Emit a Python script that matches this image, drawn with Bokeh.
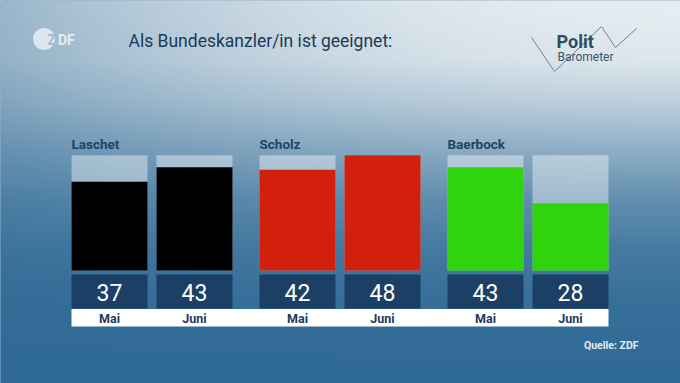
import numpy as np
from bokeh.plotting import figure
from bokeh.models import ColumnDataSource, Range1d, Label
from bokeh.core.properties import value
from bokeh.embed import file_html
from bokeh.resources import INLINE

# ---------------- data ----------------
candidates = ["Laschet", "Scholz", "Baerbock"]
months = ["Mai", "Juni"]
laschet = [37, 43]
scholz = [42, 48]
baerbock = [43, 28]
party_colors = ["#000000", "#d3200c", "#30d40c"]
title_text = "Als Bundeskanzler/in ist geeignet:"
source_text = "Quelle: ZDF"

# ---------------- layout constants (screen px) ----------------
W, H = 680, 383
X0 = 71            # left edge of first bar
BAR_W = 76
BAR_PITCH = 85
GROUP_PITCH = 188
BASE_Y = 270       # screen y of value 0
PX_PER_UNIT = 2.4
FONT = "Roboto"


def Y(py):
    """screen y (px from top) -> value units"""
    return (BASE_Y - py) / PX_PER_UNIT


series = [laschet, scholz, baerbock]
xs, vals, cols, labs, mons = [], [], [], [], []
for g, (vals_g, c) in enumerate(zip(series, party_colors)):
    for m, mon in enumerate(months):
        xs.append(X0 + g * GROUP_PITCH + m * BAR_PITCH + BAR_W / 2)
        vals.append(vals_g[m])
        cols.append(c)
        labs.append(str(vals_g[m]))
        mons.append(mon)
src = ColumnDataSource(dict(x=xs, value=vals, color=cols, label=labs, month=mons))
track_max = max(vals)

p = figure(width=W, height=H, output_backend="svg", toolbar_location=None,
           x_range=Range1d(0, W), y_range=Range1d(Y(H), Y(0)),
           min_border=0, x_axis_location=None, y_axis_location=None)
p.grid.visible = False
p.outline_line_color = None
p.background_fill_color = "#2f6a95"
p.border_fill_color = "#2f6a95"

# ---------------- background gradient ----------------
sy, sx = np.mgrid[0:H, 0:W].astype(float)
ty = np.interp(sy, [0, 60, 100, 150, 200, 250, 300, 383],
               [0.0, 0.06, 0.22, 0.48, 0.72, 0.87, 0.95, 1.0])
v = sx / 680.0
t = ty + 0.42 * (1 - v) ** 2 * (1 - ty)
t = np.clip(t, 0, 1)
L = np.array([232, 238, 242], float)
D = np.array([46, 105, 149], float)
rgb = L[None, None, :] * (1 - t[..., None]) + D[None, None, :] * t[..., None]
img = np.empty((H, W), dtype=np.uint32)
view = img.view(dtype=np.uint8).reshape((H, W, 4))
view[..., 0] = rgb[..., 0].astype(np.uint8)
view[..., 1] = rgb[..., 1].astype(np.uint8)
view[..., 2] = rgb[..., 2].astype(np.uint8)
view[..., 3] = 255
img = img[::-1]  # row 0 at bottom
p.image_rgba(image=[img], x=-1, y=Y(H + 1), dw=W + 2, dh=Y(-1) - Y(H + 1))

# ---------------- bars ----------------
p.vbar(x="x", width=BAR_W, bottom=0, top=track_max, source=src,
       fill_color="white", fill_alpha=0.4, line_color=None)
p.vbar(x="x", width=BAR_W, bottom=0, top="value", source=src,
       fill_color="color", line_color=None)
# value boxes
p.vbar(x="x", width=BAR_W, top=Y(274), bottom=Y(308), source=src,
       fill_color="#1c3f65", line_color=None)
# white month strip
p.quad(left=[min(xs) - BAR_W / 2], right=[max(xs) + BAR_W / 2],
       top=[Y(308.5)], bottom=[Y(326)], fill_color="white", line_color=None)

p.text(x="x", y=Y(292), text="label", source=src, text_align="center",
       text_baseline="middle", text_font=value(FONT), text_font_size="23px",
       text_color="white")
p.text(x="x", y=Y(318), text="month", source=src, text_align="center",
       text_baseline="middle", text_font=value(FONT), text_font_size="12.5px",
       text_font_style="bold", text_color="#1c3a5a")

# candidate names
for g, name in enumerate(candidates):
    p.add_layout(Label(x=X0 + g * GROUP_PITCH, y=Y(143), text=name,
                       text_align="left", text_baseline="middle",
                       text_font=FONT, text_font_size="13.5px",
                       text_font_style="bold", text_color="#1f4466"))

# title
p.add_layout(Label(x=128, y=Y(40), text=title_text, text_align="left",
                   text_baseline="middle", text_font=FONT,
                   text_font_size="17.5px", text_color="#1b3a58"))

# source
p.add_layout(Label(x=638, y=Y(345), text=source_text, text_align="right",
                   text_baseline="middle", text_font=FONT,
                   text_font_size="10.5px", text_font_style="bold",
                   text_color="#e2eaf0"))

# ZDF logo
p.circle(x=[43.5], y=[Y(38.5)], radius=11, fill_color="#e6edf2",
         fill_alpha=0.85, line_color=None)
p.add_layout(Label(x=47, y=Y(39), text="Z", text_align="left",
                   text_baseline="middle", text_font=FONT,
                   text_font_size="14px", text_font_style="bold",
                   text_color="#a3bacb"))
p.add_layout(Label(x=57.5, y=Y(39), text="DF", text_align="left",
                   text_baseline="middle", text_font=FONT,
                   text_font_size="14px", text_font_style="bold",
                   text_color="#e6edf2"))

# Politbarometer logo
p.line(x=[531, 554, 601, 615, 636], y=[Y(37), Y(71), Y(26), Y(47), Y(28)],
       line_color="#6f8292", line_width=1)
p.add_layout(Label(x=556, y=Y(41), text="Polit", text_align="left",
                   text_baseline="middle", text_font=FONT,
                   text_font_size="18px", text_font_style="bold",
                   text_color="#2b4d66"))
p.add_layout(Label(x=557, y=Y(56), text="Barometer", text_align="left",
                   text_baseline="middle", text_font=FONT,
                   text_font_size="12px", text_color="#3b5467"))

open("out.html", "w").write(file_html(p, INLINE))
